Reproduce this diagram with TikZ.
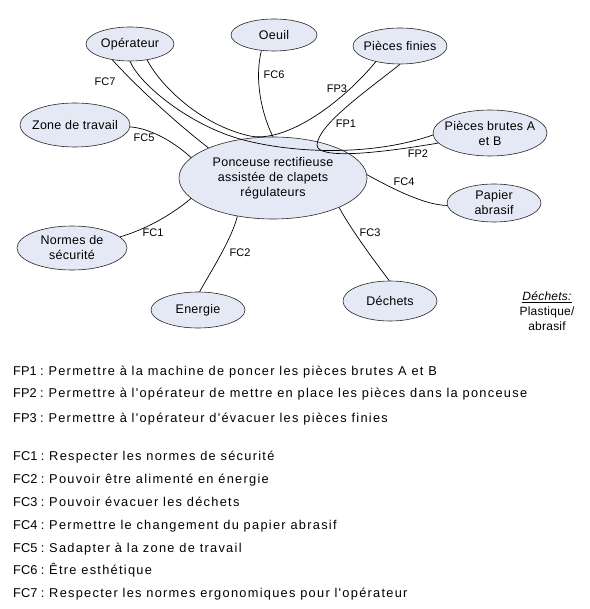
\documentclass[tikz,border=0pt]{standalone}
\usepackage{fontspec}
\setmainfont{Liberation Sans}
\newfontfamily\spaced{Liberation Sans}[LetterSpace=2]
\newfontfamily\wide{Liberation Sans}[LetterSpace=10]
\usetikzlibrary{shapes.geometric}
\definecolor{efill}{RGB}{228,233,245}
\begin{document}
\begin{tikzpicture}[x=1pt,y=-1pt,
  ent/.style={ellipse, draw=black!85, line width=0.6pt, fill=efill, inner sep=-14pt, align=center,
    font=\spaced\fontsize{12.5}{15}\selectfont},
  lnk/.style={draw=black, line width=0.7pt},
  lbl/.style={font=\fontsize{11}{12}\selectfont, inner sep=0pt},
  txt/.style={anchor=base west, inner sep=0pt, font=\fontsize{12.8}{14}\selectfont}]
\useasboundingbox (0,0) rectangle (589,609);

% entities
\node[ent, minimum width=88pt, minimum height=34pt] (op) at (130,44) {Opérateur};
\node[ent, minimum width=86pt, minimum height=32pt] (oe) at (274,35) {Oeuil};
\node[ent, minimum width=94pt, minimum height=36pt] (pf) at (400,46) {Pièces finies};
\node[ent, minimum width=110pt, minimum height=44pt] (zt) at (75,125) {Zone de travail};
\node[ent, minimum width=114pt, minimum height=46pt] (pb) at (490,133) {Pièces brutes A\\et B};
\node[ent, minimum width=94pt, minimum height=38pt] (pa) at (494,203) {Papier\\abrasif};
\node[ent, minimum width=110pt, minimum height=44pt] (nm) at (72,248) {Normes de\\sécurité};
\node[ent, minimum width=94pt, minimum height=36pt] (en) at (198,310) {Energie};
\node[ent, minimum width=94pt, minimum height=40pt] (de) at (390,301) {Déchets};
\node[ent, minimum width=188pt, minimum height=82pt] (main) at (273,178)
  {Ponceuse rectifieuse\\assistée de clapets\\régulateurs};

% connectors
\draw[lnk] (op.-138) .. controls (135,85) and (175,122) .. (main.155);
\draw[lnk] (op.-90) .. controls (140,85) and (190,125) .. (240,139)
                    .. controls (290,153) and (370,157) .. (pb.-178);
\draw[lnk] (op.-43) .. controls (160,85) and (200,125) .. (250,136)
                    .. controls (285,143) and (340,105) .. (pf.-147);
\draw[lnk] (pf.-90) .. controls (365,92) and (318,125) .. (317,145)
                    .. controls (317,160) and (380,153) .. (pb.-169);
\draw[lnk] (oe.-129) .. controls (254,80) and (262,115) .. (main.90);
\draw[lnk] (zt.-2) .. controls (148,128) and (172,140) .. (main.166);
\draw[lnk] (nm.13) .. controls (150,228) and (175,212) .. (main.194);
\draw[lnk] (en.85) .. controls (213,268) and (232,238) .. (main.-133);
\draw[lnk] (main.-24) .. controls (350,228) and (375,262) .. (de.92);
\draw[lnk] (main.2) .. controls (395,190) and (425,205) .. (pa.183);

% connector labels
\node[lbl] (l7) at (105,82) {FC7};
\node[lbl] (l6) at (274,75) {FC6};
\node[lbl] (p3) at (337,89) {FP3};
\node[lbl] (p1) at (346,124) {FP1};
\node[lbl] (p2) at (418,154) {FP2};
\node[lbl] (l5) at (144,138) {FC5};
\node[lbl] (l4) at (404,182) {FC4};
\node[lbl] (l1) at (153,233) {FC1};
\node[lbl] (l2) at (240,253) {FC2};
\node[lbl] (l3) at (370,233) {FC3};

% note
\node[align=center, inner sep=0pt, font=\spaced\fontsize{12}{15}\selectfont] (note) at (547,311)
  {\underline{\itshape Déchets:}\\Plastique/\\abrasif};

% legend
\node[txt] (t1) at (13,375) {FP1 : {\wide Permettre à la machine de poncer les pièces brutes A et B}};
\node[txt] (t2) at (13,397) {FP2 : {\wide Permettre à l'opérateur de mettre en place les pièces dans la ponceuse}};
\node[txt] (t3) at (13,422) {FP3 : {\wide Permettre à l'opérateur d'évacuer les pièces finies}};
\node[txt] (t4) at (13,460) {FC1 : {\wide Respecter les normes de sécurité}};
\node[txt] (t5) at (13,483) {FC2 : {\wide Pouvoir être alimenté en énergie}};
\node[txt] (t6) at (13,506) {FC3 : {\wide Pouvoir évacuer les déchets}};
\node[txt] (t7) at (13,529) {FC4 : {\wide Permettre le changement du papier abrasif}};
\node[txt] (t8) at (13,552) {FC5 : {\wide Sadapter à la zone de travail}};
\node[txt] (t9) at (13,574) {FC6 : {\wide Être esthétique}};
\node[txt] (t10) at (13,597) {FC7 : {\wide Respecter les normes ergonomiques pour l'opérateur}};
\end{tikzpicture}
\end{document}
